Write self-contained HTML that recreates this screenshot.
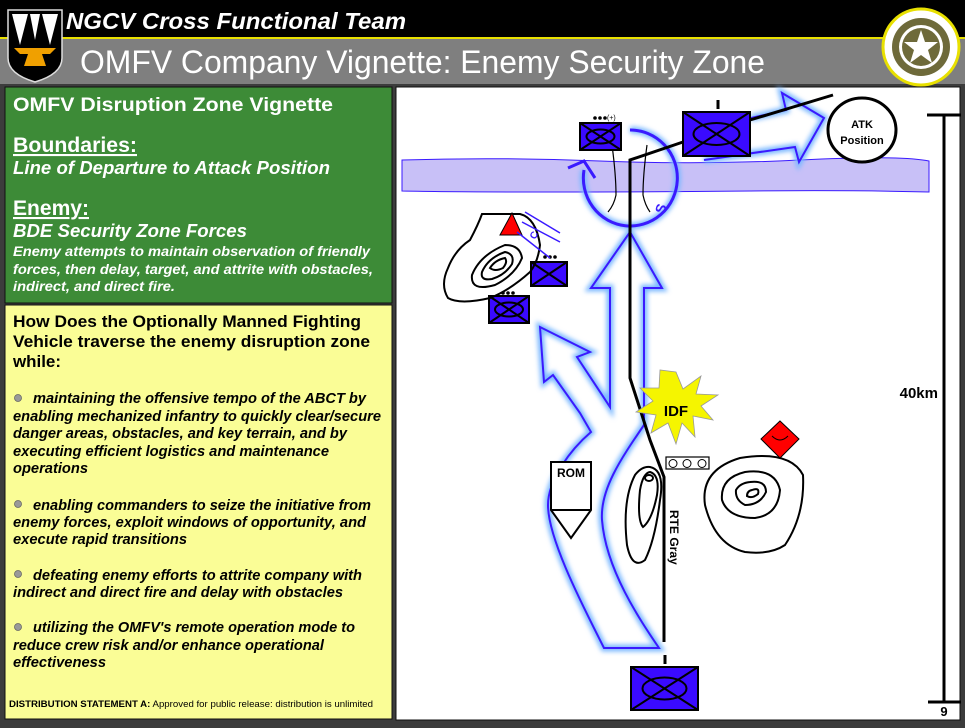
<!DOCTYPE html>
<html><head><meta charset="utf-8"><style>
html,body{margin:0;padding:0;background:#3c3c3c;}
svg{display:block;}
text{font-family:"Liberation Sans",sans-serif;}
</style></head><body>
<svg width="965" height="728" viewBox="0 0 965 728" xmlns="http://www.w3.org/2000/svg">
<defs>
<filter id="glow" x="-20%" y="-20%" width="140%" height="140%"><feGaussianBlur stdDeviation="2.5"/></filter>
</defs>
<rect x="0" y="0" width="965" height="728" fill="#3c3c3c"/>
<rect x="0" y="0" width="965" height="37" fill="#000"/>
<rect x="0" y="37" width="965" height="2" fill="#e8e000"/>
<rect x="0" y="39" width="965" height="45" fill="#7f7f7f"/>
<!-- left logo -->
<path d="M8,10 L62,10 L62,58 Q62,74 35,82 Q8,74 8,58 Z" fill="#000" stroke="#ddd" stroke-width="1.5"/>
<path d="M12,14 L28,14 L20,45 Z M58,14 L42,14 L50,45 Z" fill="#fff"/>
<path d="M30,14 L40,14 L35,40 Z" fill="#fff"/>
<path d="M14,48 L56,48 L50,54 L42,54 L46,66 L24,66 L28,54 L20,54 Z" fill="#f0a000"/>
<text x="66" y="29" font-size="23" font-weight="bold" font-style="italic" fill="#fff" textLength="340" lengthAdjust="spacingAndGlyphs">NGCV Cross Functional Team</text>
<text x="80" y="73" font-size="32" fill="#fff" textLength="685" lengthAdjust="spacingAndGlyphs">OMFV Company Vignette: Enemy Security Zone</text>
<!-- right emblem -->
<circle cx="921" cy="47" r="38" fill="#fff" stroke="#e8e000" stroke-width="3"/>
<circle cx="921" cy="47" r="29" fill="#6e6a3a"/>
<circle cx="921" cy="47" r="22" fill="#fff"/>
<circle cx="921" cy="47" r="19" fill="#6e6a3a"/>
<path d="M921,30 L925,42 L938,42 L928,50 L932,63 L921,55 L910,63 L914,50 L904,42 L917,42 Z" fill="#fff"/>
<!-- left panels -->
<rect x="5" y="87" width="387" height="216" fill="#3d8b37" stroke="#111" stroke-width="1"/>
<rect x="5" y="305" width="387" height="414" fill="#fafd96" stroke="#111" stroke-width="1"/>
<text x="13" y="111" font-size="19" font-weight="bold" fill="#fff" textLength="320" lengthAdjust="spacingAndGlyphs">OMFV Disruption Zone Vignette</text>
<text x="13" y="152" font-size="21" font-weight="bold" fill="#fff" text-decoration="underline" textLength="124" lengthAdjust="spacingAndGlyphs">Boundaries:</text>
<text x="13" y="174" font-size="18" font-weight="bold" font-style="italic" fill="#fff" textLength="317" lengthAdjust="spacingAndGlyphs">Line of Departure to Attack Position</text>
<text x="13" y="215" font-size="21" font-weight="bold" fill="#fff" text-decoration="underline" textLength="76" lengthAdjust="spacingAndGlyphs">Enemy:</text>
<text x="13" y="237" font-size="18" font-weight="bold" font-style="italic" fill="#fff" textLength="234" lengthAdjust="spacingAndGlyphs">BDE Security Zone Forces</text>
<g font-size="14" font-weight="bold" font-style="italic" fill="#fff">
<text x="13" y="256" textLength="357" lengthAdjust="spacingAndGlyphs">Enemy attempts to maintain observation of friendly</text>
<text x="13" y="274" textLength="360" lengthAdjust="spacingAndGlyphs">forces, then delay, target, and attrite with obstacles,</text>
<text x="13" y="291" textLength="162" lengthAdjust="spacingAndGlyphs">indirect, and direct fire.</text>
</g>
<g font-size="17" font-weight="bold" fill="#000">
<text x="13" y="327" textLength="348" lengthAdjust="spacingAndGlyphs">How Does the Optionally Manned Fighting</text>
<text x="13" y="347" textLength="357" lengthAdjust="spacingAndGlyphs">Vehicle traverse the enemy disruption zone</text>
<text x="13" y="367" textLength="48" lengthAdjust="spacingAndGlyphs">while:</text>
</g>
<g fill="#999" stroke="#666" stroke-width="0.8">
<circle cx="18" cy="398" r="3.5"/><circle cx="18" cy="504" r="3.5"/><circle cx="18" cy="574" r="3.5"/><circle cx="18" cy="627" r="3.5"/>
</g>
<g font-size="14.5" font-weight="bold" font-style="italic" fill="#000">
<text x="33" y="403" textLength="333" lengthAdjust="spacingAndGlyphs">maintaining the offensive tempo of the ABCT by</text>
<text x="13" y="421" textLength="368" lengthAdjust="spacingAndGlyphs">enabling mechanized infantry to quickly clear/secure</text>
<text x="13" y="438" textLength="334" lengthAdjust="spacingAndGlyphs">danger areas, obstacles, and key terrain, and by</text>
<text x="13" y="456" textLength="316" lengthAdjust="spacingAndGlyphs">executing efficient logistics and maintenance</text>
<text x="13" y="473" textLength="75" lengthAdjust="spacingAndGlyphs">operations</text>
<text x="33" y="510" textLength="338" lengthAdjust="spacingAndGlyphs">enabling commanders to seize the initiative from</text>
<text x="13" y="527" textLength="353" lengthAdjust="spacingAndGlyphs">enemy forces, exploit windows of opportunity, and</text>
<text x="13" y="544" textLength="174" lengthAdjust="spacingAndGlyphs">execute rapid transitions</text>
<text x="33" y="580" textLength="329" lengthAdjust="spacingAndGlyphs">defeating enemy efforts to attrite company with</text>
<text x="13" y="597" textLength="330" lengthAdjust="spacingAndGlyphs">indirect and direct fire and delay with obstacles</text>
<text x="33" y="632" textLength="322" lengthAdjust="spacingAndGlyphs">utilizing the OMFV's remote operation mode to</text>
<text x="13" y="650" textLength="311" lengthAdjust="spacingAndGlyphs">reduce crew risk and/or enhance operational</text>
<text x="13" y="667" textLength="93" lengthAdjust="spacingAndGlyphs">effectiveness</text>
</g>
<text x="9" y="707" font-size="9.5" fill="#000" textLength="364" lengthAdjust="spacingAndGlyphs"><tspan font-weight="bold">DISTRIBUTION STATEMENT A:</tspan> Approved for public release: distribution is unlimited</text>
<!-- right panel -->
<rect x="396" y="87" width="564" height="633" fill="#fff" stroke="#111" stroke-width="1"/>
<!-- band -->
<path d="M402,160 Q500,157 600,161 T800,160 T929,161 L929,192 Q850,190 750,191 T550,192 T402,191 Z" fill="#c8c0f7" stroke="#3a1aff" stroke-width="1"/>
<!-- scale bar -->
<g stroke="#000" stroke-width="3" fill="none">
<line x1="944" y1="114" x2="944" y2="702"/><line x1="927" y1="115" x2="961" y2="115"/><line x1="928" y1="702" x2="961" y2="702"/>
</g>
<text x="938" y="398" font-size="15" font-weight="bold" text-anchor="end">40km</text>
<text x="944" y="716" font-size="13" font-weight="bold" text-anchor="middle">9</text>
<!-- blue movement shape -->
<g>
<path d="M604,648 C585,610 548,540 548,505 C548,480 570,450 591,432 L580,413 L553,375 L544,382 L540,327 L590,352 L577,357 L610,407 L610,288 L591,288 L630,232 L662,288 L644,288 L644,425 C620,460 600,490 602,520 C606,570 640,620 659,648 Z" fill="none" stroke="#7ab8ff" stroke-width="7" filter="url(#glow)"/>
<path d="M604,648 C585,610 548,540 548,505 C548,480 570,450 591,432 L580,413 L553,375 L544,382 L540,327 L590,352 L577,357 L610,407 L610,288 L591,288 L630,232 L662,288 L644,288 L644,425 C620,460 600,490 602,520 C606,570 640,620 659,648 Z" fill="none" stroke="#3a1aff" stroke-width="2"/>
</g>
<!-- top right arrow -->
<path d="M704,160 L795,147 L799,162 L824,118 L782,93 L786,110 L751,118" fill="none" stroke="#7ab8ff" stroke-width="7" filter="url(#glow)"/>
<path d="M704,160 L795,147 L799,162 L824,118 L782,93 L786,110 L751,118" fill="none" stroke="#3a1aff" stroke-width="2"/>
<!-- circle arc -->
<path d="M630,130 A47,48 0 1 1 584,170" fill="none" stroke="#7ab8ff" stroke-width="7" filter="url(#glow)"/>
<path d="M630,130 A47,48 0 1 1 584,170" fill="none" stroke="#3a1aff" stroke-width="3"/>
<path d="M568,168 L584,161 L595,178" fill="none" stroke="#3a1aff" stroke-width="3"/>
<text x="659" y="218" font-size="14" font-weight="bold" fill="#3a1aff" transform="rotate(-70 659 213)">S</text>
<!-- road -->
<g stroke="#000" fill="none">
<path d="M664,642 L664,477 L650,440 L630,378 L630,160 L683,142" stroke-width="3"/>
<line x1="750" y1="120" x2="833" y2="95" stroke-width="3"/>
<path d="M612,145 Q616,175 616,195 Q614,205 608,212" stroke-width="1.2"/>
<path d="M647,145 Q643,175 643,195 Q645,205 650,212" stroke-width="1.2"/>
</g>
<text x="670" y="510" font-size="12" font-weight="bold" transform="rotate(90 670 510)">RTE Gray</text>
<!-- ATK -->
<ellipse cx="862" cy="130" rx="34" ry="32" fill="#fff" stroke="#000" stroke-width="3"/>
<text x="862" y="128" font-size="11" font-weight="bold" text-anchor="middle">ATK</text>
<text x="862" y="144" font-size="11" font-weight="bold" text-anchor="middle">Position</text>
<!-- units -->
<g stroke="#000" stroke-width="2">
<rect x="683" y="112" width="67" height="44" fill="#3a0aff"/>
<line x1="683" y1="112" x2="750" y2="156"/><line x1="750" y1="112" x2="683" y2="156"/>
<ellipse cx="716.5" cy="134" rx="23" ry="11" fill="none"/>
<line x1="718" y1="100" x2="718" y2="109" stroke-width="3"/>
<rect x="580" y="123" width="41" height="27" fill="#3a0aff"/>
<line x1="580" y1="123" x2="621" y2="150"/><line x1="621" y1="123" x2="580" y2="150"/>
<ellipse cx="600.5" cy="136.5" rx="14" ry="7" fill="none"/>
<rect x="531" y="262" width="36" height="24" fill="#3a0aff"/>
<line x1="531" y1="262" x2="567" y2="286"/><line x1="567" y1="262" x2="531" y2="286"/>
<rect x="489" y="296" width="40" height="27" fill="#3a0aff"/>
<line x1="489" y1="296" x2="529" y2="323"/><line x1="529" y1="296" x2="489" y2="323"/>
<ellipse cx="509" cy="309.5" rx="14" ry="7" fill="none"/>
<rect x="631" y="667" width="67" height="43" fill="#3a0aff"/>
<line x1="631" y1="667" x2="698" y2="710"/><line x1="698" y1="667" x2="631" y2="710"/>
<ellipse cx="664.5" cy="688.5" rx="22" ry="11" fill="none"/>
<line x1="665" y1="655" x2="665" y2="664" stroke-width="3"/>
</g>
<g fill="#000"><circle cx="595" cy="118" r="1.8"/><circle cx="600" cy="118" r="1.8"/><circle cx="605" cy="118" r="1.8"/>
<circle cx="545" cy="257" r="1.8"/><circle cx="550" cy="257" r="1.8"/><circle cx="555" cy="257" r="1.8"/>
<circle cx="503" cy="293" r="1.8"/><circle cx="508" cy="293" r="1.8"/><circle cx="513" cy="293" r="1.8"/></g>
<text x="607" y="120" font-size="7">(+)</text>
<!-- left hill -->
<g fill="none" stroke="#000" stroke-width="2">
<path d="M482,214 L520,214 Q536,218 540,245 Q538,262 530,272 Q510,290 490,298 Q460,305 448,298 Q440,285 448,268 Q455,250 470,240 Q478,225 482,214 Z"/>
<path d="M472,275 Q480,255 505,245 Q520,245 522,258 Q515,275 495,285 Q470,292 472,275 Z"/>
<path d="M482,272 Q488,258 505,252 Q515,254 512,264 Q505,275 492,279 Q480,281 482,272 Z"/>
<path d="M490,268 Q495,260 505,258 Q508,262 503,268 Q495,272 490,268 Z"/>
</g>
<path d="M500,235 L512,213 L522,235 Z" fill="#f00" stroke="#000" stroke-width="1"/>
<g stroke="#3a1aff" stroke-width="1.5" fill="none">
<line x1="517" y1="232" x2="550" y2="258"/><line x1="522" y1="222" x2="560" y2="242"/><line x1="525" y1="212" x2="560" y2="233"/>
</g>
<text x="535" y="240" font-size="10" font-weight="bold" fill="#3a1aff" transform="rotate(-60 535 240)">C</text>
<!-- IDF -->
<path d="M676,372 L683,389 L701,376 L696,394 L718,395 L701,406 L713,420 L693,416 L695,437 L682,423 L676,444 L668,423 L651,433 L656,415 L636,412 L653,401 L640,388 L659,388 L660,370 Z" fill="#f5f500" stroke="#999" stroke-width="0.8"/>
<text x="676" y="416" font-size="15" font-weight="bold" text-anchor="middle">IDF</text>
<!-- obstacle box -->
<rect x="666" y="457" width="43" height="12" fill="#fff" stroke="#000" stroke-width="1.2"/>
<g fill="none" stroke="#000" stroke-width="1"><circle cx="673" cy="463.5" r="4"/><circle cx="687" cy="463.5" r="4"/><circle cx="702" cy="463.5" r="4"/></g>
<!-- ROM -->
<path d="M551,462 L591,462 L591,510 L571,538 L551,510 Z M551,510 L591,510" fill="#fff" stroke="#000" stroke-width="2"/>
<text x="571" y="477" font-size="12" font-weight="bold" text-anchor="middle">ROM</text>
<!-- narrow hill -->
<g fill="none" stroke="#000" stroke-width="2">
<path d="M650,467 Q665,470 660,500 Q655,540 645,560 Q632,570 627,545 Q622,500 635,475 Q642,466 650,467 Z"/>
<path d="M650,472 Q660,475 657,495 Q652,520 643,527 Q637,520 640,490 Q643,473 650,472 Z"/>
<ellipse cx="649" cy="478" rx="4" ry="3"/>
</g>
<!-- right hill -->
<g fill="none" stroke="#000" stroke-width="2">
<path d="M740,458 Q790,450 803,475 Q805,515 785,545 Q770,555 745,552 Q715,545 705,505 Q700,470 740,458 Z"/>
<path d="M745,472 Q775,468 780,490 Q778,515 755,518 Q728,518 722,500 Q720,478 745,472 Z"/>
<path d="M750,482 Q766,480 766,492 Q760,505 745,505 Q735,500 736,490 Q740,483 750,482 Z"/>
<path d="M752,490 Q760,487 758,494 Q752,499 747,496 Q747,491 752,490 Z"/>
</g>
<path d="M780,421 L799,439 L780,458 L761,439 Z" fill="#f00" stroke="#000" stroke-width="1"/>
<path d="M772,436 Q780,444 788,436" fill="none" stroke="#000" stroke-width="1"/>
</svg>
</body></html>
